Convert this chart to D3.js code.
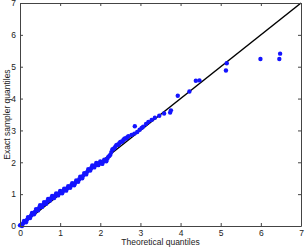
<!DOCTYPE html>
<html>
<head>
<meta charset="utf-8">
<script src="https://cdn.jsdelivr.net/npm/d3@7"></script>
<style>
  body { margin: 0; background: #fff; }
  svg { display: block; font-family: "Liberation Sans", Arial, sans-serif; }
</style>
</head>
<body>
<svg id="chart"></svg>
<script>
// quantile pairs (dense band first, then the sparse tail)
const theoretical = [
  0.000, 0.025, 0.050, 0.075, 0.100, 0.125, 0.150, 0.175, 0.200, 0.225,
  0.250, 0.275, 0.300, 0.325, 0.350, 0.375, 0.400, 0.425, 0.450, 0.475,
  0.500, 0.525, 0.550, 0.575, 0.600, 0.625, 0.650, 0.675, 0.700, 0.725,
  0.750, 0.775, 0.800, 0.825, 0.850, 0.875, 0.900, 0.925, 0.950, 0.975,
  1.000, 1.025, 1.050, 1.075, 1.100, 1.125, 1.150, 1.175, 1.200, 1.225,
  1.250, 1.275, 1.300, 1.325, 1.350, 1.375, 1.400, 1.425, 1.450, 1.475,
  1.500, 1.525, 1.550, 1.575, 1.600, 1.625, 1.650, 1.675, 1.700, 1.725,
  1.750, 1.775, 1.800, 1.825, 1.850, 1.875, 1.900, 1.925, 1.950, 1.975,
  2.000, 2.025, 2.050, 2.075, 2.100, 2.125, 2.150, 2.175, 2.200, 2.225,
  2.250, 2.275, 2.300, 2.325, 2.350, 2.375, 2.400, 2.425, 2.450, 2.475,
  2.500, 2.525, 2.550, 2.575, 2.600, 2.625, 2.650, 2.675, 2.700, 2.780,
  2.850, 2.860, 2.920, 2.980, 3.030, 3.070, 3.140, 3.200, 3.280, 3.360,
  3.470, 3.590, 3.740, 3.760, 3.930, 4.220, 4.380, 4.470, 5.130, 5.150,
  5.990, 6.460, 6.480
];
const sample = [
  0.02, 0.03, 0.00, 0.08, 0.16, 0.14, 0.12, 0.20, 0.28, 0.26,
  0.25, 0.33, 0.41, 0.39, 0.37, 0.45, 0.53, 0.51, 0.49, 0.57,
  0.65, 0.62, 0.60, 0.67, 0.75, 0.72, 0.70, 0.77, 0.85, 0.82,
  0.80, 0.87, 0.94, 0.91, 0.88, 0.95, 1.02, 0.99, 0.96, 1.03,
  1.10, 1.07, 1.03, 1.10, 1.17, 1.14, 1.11, 1.18, 1.25, 1.22,
  1.20, 1.27, 1.34, 1.31, 1.28, 1.35, 1.43, 1.41, 1.39, 1.47,
  1.55, 1.52, 1.50, 1.58, 1.66, 1.64, 1.62, 1.70, 1.78, 1.76,
  1.74, 1.82, 1.90, 1.87, 1.84, 1.91, 1.98, 1.95, 1.91, 1.97,
  2.03, 1.99, 1.95, 2.02, 2.08, 2.05, 2.03, 2.11, 2.17, 2.20,
  2.24, 2.32, 2.40, 2.42, 2.44, 2.49, 2.54, 2.55, 2.55, 2.60,
  2.64, 2.65, 2.65, 2.70, 2.74, 2.75, 2.75, 2.79, 2.82, 2.86,
  2.90, 3.13, 2.95, 3.02, 3.08, 3.12, 3.20, 3.27, 3.33, 3.40,
  3.46, 3.53, 3.56, 3.63, 4.09, 4.22, 4.56, 4.57, 4.88, 5.11,
  5.24, 5.24, 5.41
];
const xTicks = [0, 1, 2, 3, 4, 5, 6, 7];
const yTicks = [0, 1, 2, 3, 4, 5, 6, 7];
const refLine = [0, 7];

const width = 305, height = 248;
const margin = { top: 3, right: 4, bottom: 22, left: 20 };
const w = width - margin.left - margin.right;
const h = height - margin.top - margin.bottom;

const svg = d3.select('#chart').attr('width', width).attr('height', height);
const g = svg.append('g').attr('transform', `translate(${margin.left},${margin.top})`);

const x = d3.scaleLinear().domain([0, 7]).range([0, w]);
const y = d3.scaleLinear().domain([0, 7]).range([h, 0]);

const points = theoretical.map((t, i) => ({ t: t, s: sample[i] }));

// reference line y = x
g.append('line')
  .attr('x1', x(refLine[0])).attr('y1', y(refLine[0]))
  .attr('x2', x(refLine[1])).attr('y2', y(refLine[1]))
  .attr('stroke', '#000')
  .attr('stroke-width', 1.5);

g.selectAll('circle')
  .data(points)
  .join('circle')
  .attr('cx', d => x(d.t))
  .attr('cy', d => y(d.s))
  .attr('r', 2.2)
  .attr('fill', '#1414ff');

// axes, ticks pointing inward on all four sides
const axisStyle = sel => {
  sel.select('.domain').attr('stroke', '#444').attr('fill', 'none');
  sel.selectAll('.tick line').attr('stroke', '#444');
  sel.selectAll('.tick text').attr('fill', '#222').attr('font-size', '8.5px');
};
const fmt = d3.format('d');

g.append('g')
  .attr('transform', `translate(0,${h})`)
  .call(d3.axisBottom(x).tickValues(xTicks).tickFormat(fmt).tickSizeInner(-3).tickSizeOuter(0).tickPadding(4))
  .call(axisStyle);

g.append('g')
  .call(d3.axisTop(x).tickValues(xTicks).tickSizeInner(-3).tickSizeOuter(0).tickFormat(''))
  .call(axisStyle);

g.append('g')
  .call(d3.axisLeft(y).tickValues(yTicks).tickFormat(fmt).tickSizeInner(-3).tickSizeOuter(0).tickPadding(4))
  .call(axisStyle);

g.append('g')
  .attr('transform', `translate(${w},0)`)
  .call(d3.axisRight(y).tickValues(yTicks).tickSizeInner(-3).tickSizeOuter(0).tickFormat(''))
  .call(axisStyle);

g.append('text')
  .attr('x', w / 2)
  .attr('y', h + 19)
  .attr('text-anchor', 'middle')
  .attr('font-size', '8.5px')
  .attr('fill', '#222')
  .text('Theoretical quantiles');

g.append('text')
  .attr('transform', `translate(${-10},${h / 2}) rotate(-90)`)
  .attr('text-anchor', 'middle')
  .attr('font-size', '8.5px')
  .attr('fill', '#222')
  .text('Exact sampler quantiles');
</script>
</body>
</html>
